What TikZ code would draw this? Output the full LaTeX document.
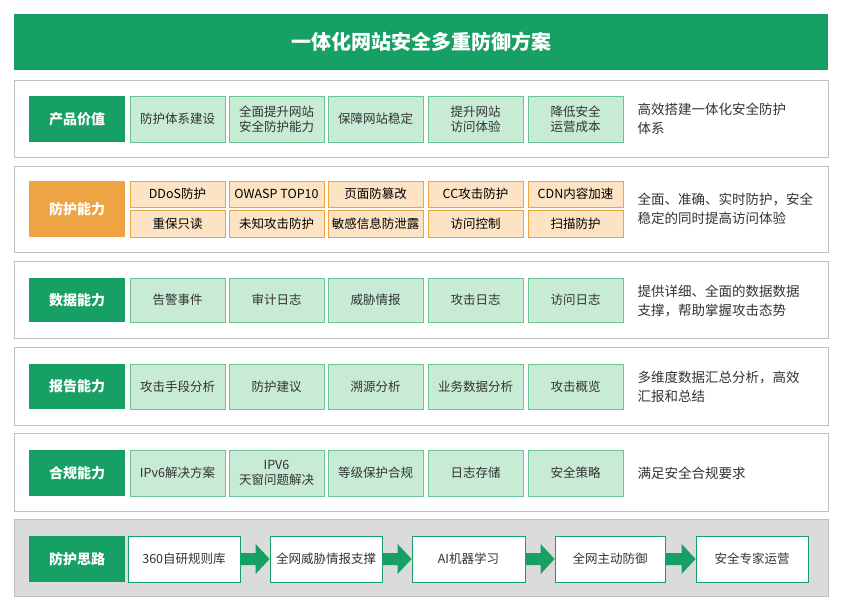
\documentclass[tikz,border=0pt]{standalone}
\usepackage{fontspec}
\setmainfont{Noto Sans CJK SC}
\usetikzlibrary{calc}
\definecolor{gmain}{HTML}{17A064}
\definecolor{gcell}{HTML}{C8EBD5}
\definecolor{gline}{HTML}{6CC393}
\definecolor{omain}{HTML}{EFA443}
\definecolor{ocell}{HTML}{FCE3C4}
\definecolor{txt}{HTML}{333333}
\tikzset{
 panel/.style={draw=black!25,fill=white,line width=0.8pt},
 lab/.style={fill=gmain,text=white,font=\bfseries\fontsize{14}{16}\selectfont,inner sep=0},
 cell/.style={draw=gline,fill=gcell,text=txt,font=\fontsize{12.5}{15}\selectfont,align=center,inner sep=0},
 ocellst/.style={draw=omain,fill=ocell,text=black,font=\fontsize{12.5}{14}\selectfont,inner sep=0},
 desc/.style={anchor=west,text=txt,font=\fontsize{13.5}{19}\selectfont,align=left},
 wbox/.style={draw=gmain,fill=white,text=txt,font=\fontsize{12.5}{14}\selectfont,inner sep=0,line width=0.8pt},
}
\newcommand{\bx}[5]{\node[#1,minimum width={#4-#2},minimum height={#5-#3}] at ({(#2+#4)/2},{(#3+#5)/2})}
\begin{document}
\begin{tikzpicture}[x=1pt,y=-1pt]
\useasboundingbox (0,0) rectangle (841,613);
\fill[white] (0,0) rectangle (841,613);
\bx{fill=gmain,text=white,font=\bfseries\fontsize{20}{22}\selectfont}{14}{14}{828}{70} (title) {一体化网站安全多重防御方案};
% row1
\draw[panel] (14,80) rectangle (828,157);
\bx{lab}{29}{96}{125}{142} (l1) {产品价值};
\bx{cell}{130}{96}{225}{142} (a1) {防护体系建设};
\bx{cell}{229}{96}{324}{142} (a2) {全面提升网站\\安全防护能力};
\bx{cell}{328}{96}{423}{142} (a3) {保障网站稳定};
\bx{cell}{428}{96}{523}{142} (a4) {提升网站\\访问体验};
\bx{cell}{528}{96}{623}{142} (a5) {降低安全\\运营成本};
\node[desc] (d1) at (634,119) {高效搭建一体化安全防护\\体系};
% row2
\draw[panel] (14,166) rectangle (828,252);
\bx{lab,fill=omain}{29}{181}{125}{237} (l2) {防护能力};
\bx{ocellst}{130}{181}{225}{207} (b1) {DDoS防护};
\bx{ocellst}{229}{181}{324}{207} (b2) {OWASP TOP10};
\bx{ocellst}{328}{181}{423}{207} (b3) {页面防篡改};
\bx{ocellst}{428}{181}{523}{207} (b4) {CC攻击防护};
\bx{ocellst}{528}{181}{623}{207} (b5) {CDN内容加速};
\bx{ocellst}{130}{210}{225}{237} (c1) {重保只读};
\bx{ocellst}{229}{210}{324}{237} (c2) {未知攻击防护};
\bx{ocellst}{328}{210}{423}{237} (c3) {敏感信息防泄露};
\bx{ocellst}{428}{210}{523}{237} (c4) {访问控制};
\bx{ocellst}{528}{210}{623}{237} (c5) {扫描防护};
\node[desc] (d2) at (634,209) {全面、准确、实时防护，安全\\稳定的同时提高访问体验};
% row3
\draw[panel] (14,261) rectangle (828,338);
\bx{lab}{29}{278}{125}{322} (l3) {数据能力};
\bx{cell}{130}{278}{225}{322} (e1) {告警事件};
\bx{cell}{229}{278}{324}{322} (e2) {审计日志};
\bx{cell}{328}{278}{423}{322} (e3) {威胁情报};
\bx{cell}{428}{278}{523}{322} (e4) {攻击日志};
\bx{cell}{528}{278}{623}{322} (e5) {访问日志};
\node[desc] (d3) at (634,301) {提供详细、全面的数据数据\\支撑，帮助掌握攻击态势};
% row4
\draw[panel] (14,347) rectangle (828,425);
\bx{lab}{29}{364}{125}{409} (l4) {报告能力};
\bx{cell}{130}{364}{225}{409} (f1) {攻击手段分析};
\bx{cell}{229}{364}{324}{409} (f2) {防护建议};
\bx{cell}{328}{364}{423}{409} (f3) {溯源分析};
\bx{cell}{428}{364}{523}{409} (f4) {业务数据分析};
\bx{cell}{528}{364}{623}{409} (f5) {攻击概览};
\node[desc] (d4) at (634,387) {多维度数据汇总分析，高效\\汇报和总结};
% row5
\draw[panel] (14,433) rectangle (828,511);
\bx{lab}{29}{450}{125}{496} (l5) {合规能力};
\bx{cell}{130}{450}{225}{496} (g1) {IPv6解决方案};
\bx{cell}{229}{450}{324}{496} (g2) {IPV6\\天窗问题解决};
\bx{cell}{328}{450}{423}{496} (g3) {等级保护合规};
\bx{cell}{428}{450}{523}{496} (g4) {日志存储};
\bx{cell}{528}{450}{623}{496} (g5) {安全策略};
\node[desc] (d5) at (634,473) {满足安全合规要求};
% row6
\draw[draw=black!25,fill=black!14,line width=0.8pt] (14,519) rectangle (828,596);
\bx{lab}{29}{536}{125}{582} (l6) {防护思路};
\bx{wbox}{128}{536}{240}{582} (h1) {360自研规则库};
\bx{wbox}{270}{536}{382}{582} (h2) {全网威胁情报支撑};
\bx{wbox}{412}{536}{525}{582} (h3) {AI机器学习};
\bx{wbox}{555}{536}{665}{582} (h4) {全网主动防御};
\bx{wbox}{696}{536}{808}{582} (h5) {安全专家运营};
\foreach \p/\q in {h1/h2,h2/h3,h3/h4,h4/h5}
  \fill[gmain] ($(\p.east)+(0,-6)$) -- ($(\q.west)+(-14,-6)$) -- ($(\q.west)+(-14,-15)$) -- (\q.west) -- ($(\q.west)+(-14,15)$) -- ($(\q.west)+(-14,6)$) -- ($(\p.east)+(0,6)$) -- cycle;
\end{tikzpicture}
\end{document}
